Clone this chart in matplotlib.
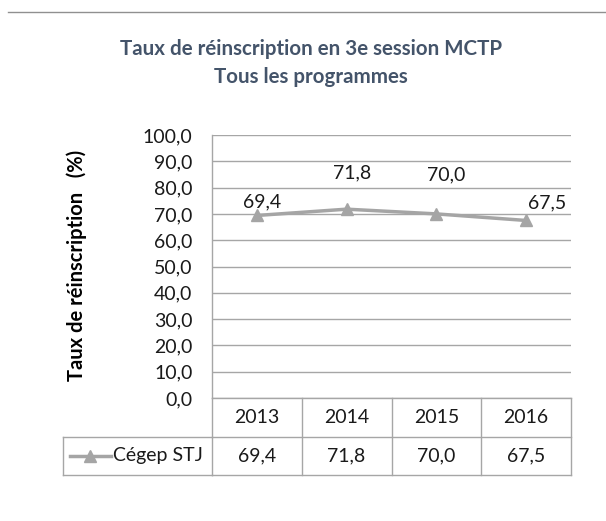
import matplotlib
matplotlib.use("Agg")
import matplotlib.pyplot as plt
from matplotlib.lines import Line2D
import matplotlib.transforms as mtransforms

years = ["2013", "2014", "2015", "2016"]
values = [69.4, 71.8, 70.0, 67.5]
value_labels = ["69,4", "71,8", "70,0", "67,5"]
series_name = "Cégep STJ"
y_ticks = [0, 10, 20, 30, 40, 50, 60, 70, 80, 90, 100]
y_tick_labels = ["0,0", "10,0", "20,0", "30,0", "40,0", "50,0", "60,0", "70,0", "80,0", "90,0", "100,0"]
title = "Taux de réinscription en 3e session MCTP\nTous les programmes"
ylabel = "Taux de réinscription   (%)"

FONT = ["Lato", "DejaVu Sans"]
plt.rcParams['font.family'] = FONT

W, H = 606, 521
fig = plt.figure(figsize=(W / 100, H / 100), dpi=100)
grid_c = "#A6A6A6"
line_c = "#A5A5A5"
txt_c = "#1a1a1a"
FS = 14

L, R, T, B = 212, 571, 135, 398
ax = fig.add_axes([L / W, (H - B) / H, (R - L) / W, (B - T) / H])
ax.set_xlim(-0.5, 3.5)
ax.set_ylim(0, 100)
x = list(range(len(years)))
ax.plot(x, values, color=line_c, lw=2.5, marker="^", ms=8, mfc=line_c, mec=line_c, zorder=3)

offsets = [(4, 10), (4, 26), (7, 28), (15, 13)]
for xi, v, lab, off in zip(x, values, value_labels, offsets):
    ax.annotate(lab, (xi, v), xytext=off, textcoords="offset points",
                ha="center", va="center", fontsize=FS, color=txt_c)

ax.set_yticks(y_ticks)
ax.set_yticklabels(y_tick_labels, fontsize=FS, color=txt_c)
ax.tick_params(axis="y", length=0, pad=14)
ax.set_xticks([])
ax.yaxis.grid(True, color=grid_c, lw=1)
ax.set_axisbelow(True)
for s in ["top", "right", "bottom"]:
    ax.spines[s].set_visible(False)
ax.spines["left"].set_color(grid_c)
ax.spines["left"].set_linewidth(1)

# data table beneath the axes
trans = mtransforms.blended_transform_factory(ax.transData, ax.transAxes)
ph = B - T
r1 = -(437 - B) / ph
r2 = -(475 - B) / ph
kw = dict(color=grid_c, lw=1, transform=trans, clip_on=False)
ax.add_line(Line2D([-0.5, 3.5], [0, 0], **kw))
ax.add_line(Line2D([-0.5, 3.5], [r1, r1], **kw))
ax.add_line(Line2D([-0.5, 3.5], [r2, r2], **kw))
for b in [-0.5, 0.5, 1.5, 2.5, 3.5]:
    ax.add_line(Line2D([b, b], [0, r2], **kw))
for xi, yr, lab in zip(x, years, value_labels):
    ax.text(xi, r1 / 2, yr, transform=trans, ha="center", va="center", fontsize=FS, color=txt_c)
    ax.text(xi, (r1 + r2) / 2, lab, transform=trans, ha="center", va="center", fontsize=FS, color=txt_c)

# legend cell in figure pixel coordinates
ft = fig.transFigure
def fx(px):
    return px / W
def fy(py):
    return (H - py) / H
fig.add_artist(Line2D([fx(63), fx(L)], [fy(437), fy(437)], color=grid_c, lw=1, transform=ft))
fig.add_artist(Line2D([fx(63), fx(L)], [fy(475), fy(475)], color=grid_c, lw=1, transform=ft))
fig.add_artist(Line2D([fx(63), fx(63)], [fy(437), fy(475)], color=grid_c, lw=1, transform=ft))
fig.add_artist(Line2D([fx(70), fx(111)], [fy(456), fy(456)], color=line_c, lw=2.5, transform=ft))
fig.add_artist(Line2D([fx(90)], [fy(456)], color=line_c, marker="^", ms=8, lw=0, transform=ft))
fig.text(fx(113), fy(456), series_name, ha="left", va="center", fontsize=FS, color=txt_c)

# title
fig.text(fx(311), fy(63), title, ha="center", va="center", fontsize=14.8, fontweight="bold",
         color="#44546A", linespacing=1.55)

# y label
fig.text(fx(77), fy(265), ylabel, rotation=90, ha="center", va="center", fontsize=14.5,
         fontweight="bold", color="#000000")

# top border line
fig.add_artist(Line2D([fx(8), fx(606)], [fy(12), fy(12)], color="#909090", lw=1, transform=ft))

fig.savefig("out.png", dpi=100, facecolor="white")
